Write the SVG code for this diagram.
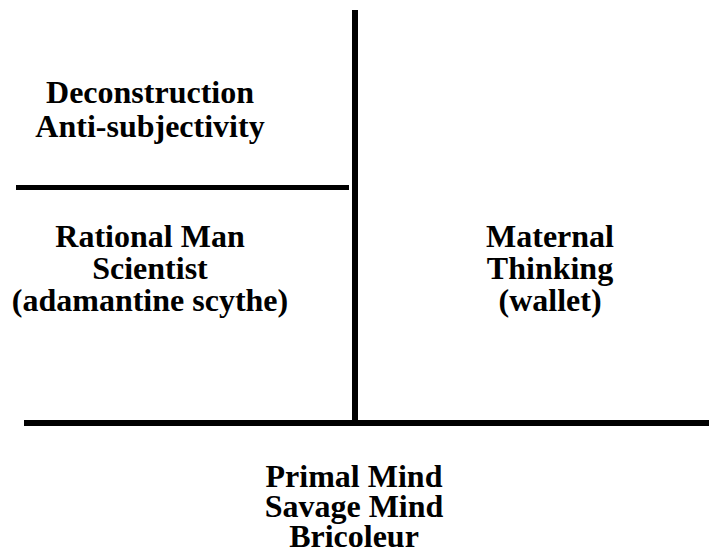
<svg xmlns="http://www.w3.org/2000/svg" width="709" height="557" viewBox="0 0 709 557">
<style>
.t{font-family:"Liberation Serif","Times New Roman",serif;font-weight:bold;font-size:32px;fill:#000;text-anchor:middle}
.ln{fill:#000}
</style>
<rect width="709" height="557" fill="#fff"/>
<g id="connectors">
<rect class="ln" x="352" y="10" width="6" height="413"/>
<rect class="ln" x="16" y="185" width="333" height="5"/>
<rect class="ln" x="24" y="420" width="685" height="6"/>
</g>
<g id="deconstruction">
<text class="t" x="150" y="103">Deconstruction</text>
<text class="t" x="150" y="137">Anti-subjectivity</text>
</g>
<g id="rational-man">
<text class="t" x="150" y="247">Rational Man</text>
<text class="t" x="150" y="279">Scientist</text>
<text class="t" x="150" y="311">(adamantine scythe)</text>
</g>
<g id="maternal">
<text class="t" x="550" y="247">Maternal</text>
<text class="t" x="550" y="279">Thinking</text>
<text class="t" x="550" y="311">(wallet)</text>
</g>
<g id="primal-mind">
<text class="t" x="354" y="487">Primal Mind</text>
<text class="t" x="354" y="517">Savage Mind</text>
<text class="t" x="354" y="547">Bricoleur</text>
</g>
</svg>
